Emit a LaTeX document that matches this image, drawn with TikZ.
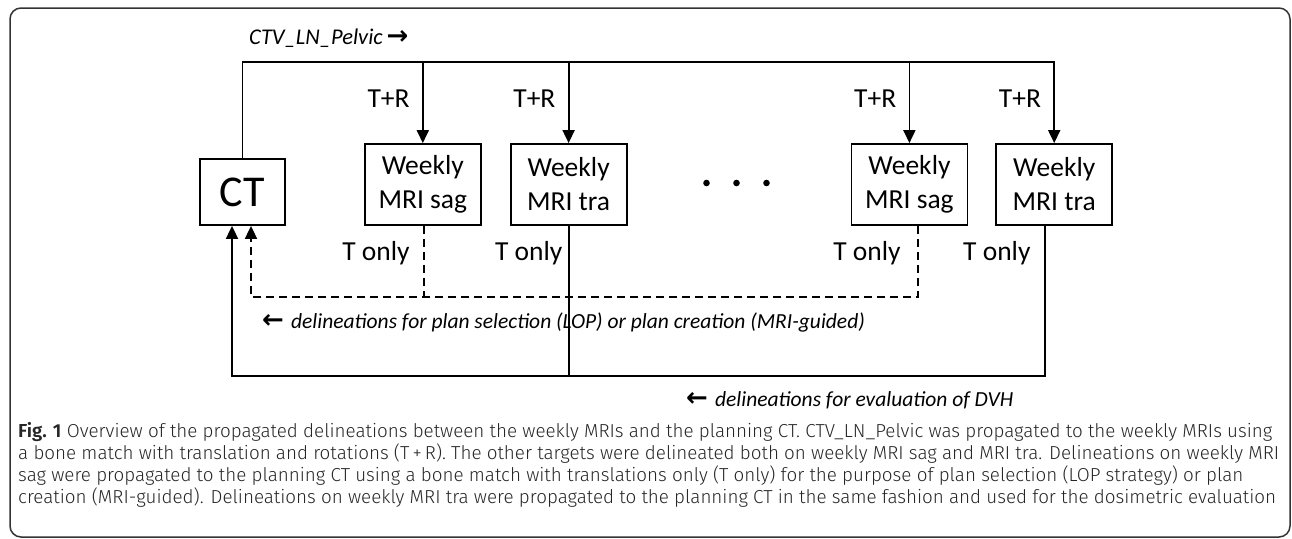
\documentclass[tikz,border=0pt]{standalone}
\usepackage{fontspec}
\setmainfont{Carlito}
\newfontfamily\capfont{Fira Sans Light}[BoldFont={Fira Sans SemiBold}]
\newfontfamily\arrowfont{DejaVu Sans}
\usetikzlibrary{positioning, arrows.meta, calc}
\tikzset{
  scanbox/.style={
    draw,
    rectangle,
    line width=1.8pt,
    minimum width=116pt,
    minimum height=81pt,
    inner sep=0pt,
    align=center,
    font=\fontsize{27.5}{34}\selectfont
  },
  ctbox/.style={
    scanbox,
    minimum width=85pt,
    minimum height=66pt,
    font=\fontsize{44}{48}\selectfont
  },
  link/.style={line width=1.8pt},
  flow/.style={link, -{Triangle[length=13pt, width=12pt]}},
  dashlink/.style={link, dash pattern=on 8pt off 5pt},
  dashflow/.style={dashlink, -{Triangle[length=13pt, width=12pt]}},
  lbl/.style={inner sep=0pt, font=\fontsize{27.5}{34}\selectfont},
  note/.style={inner sep=0pt, font=\fontsize{21.5}{25}\selectfont\itshape}
}
\newcommand{\bigarrow}[1]{{\arrowfont\upshape\bfseries\fontsize{26}{26}\selectfont #1}}
\begin{document}
\begin{tikzpicture}[x=1pt, y=-1pt]
    \useasboundingbox (0,0) rectangle (1292,538);
    \draw[line width=1.5pt, draw=black!80, rounded corners=11pt] (10,8) rectangle (1290,537);

    \node[ctbox] (ct) at (242.5,192) {CT};
    \node[scanbox, right=78pt of ct.south east, anchor=south west] (sag1) {Weekly\\MRI sag};
    \node[scanbox, right=28pt of sag1] (tra1) {Weekly\\MRI tra};
    \node[scanbox, right=223pt of tra1] (sag2) {Weekly\\MRI sag};
    \node[scanbox, right=27pt of sag2] (tra2) {Weekly\\MRI tra};

    % dots between the weeks
    \coordinate (gap) at ($(tra1.east)!0.5!(sag2.west)+(-2.5,-1.5)$);
    \foreach \dx in {-30,0,30}
        \fill ($(gap)+(\dx,0)$) circle (3.3pt);

    \coordinate (bus) at (0,62);
    \coordinate (selbus) at (0,297);
    \coordinate (evalbus) at (0,376);
    \coordinate (ctin1) at ([xshift=-10.5pt]ct.south);
    \coordinate (ctin2) at ([xshift=8.5pt]ct.south);
    \coordinate (sag1out) at ([xshift=1pt]sag1.south);
    \coordinate (sag2out) at ([xshift=8.5pt]sag2.south);
    \coordinate (tra2out) at ([xshift=-9.5pt]tra2.south);

    % T+R propagation from CT
    \draw[flow] (ct.north) |- (bus -| tra2.north) -- (tra2.north);
    \foreach \b in {sag1, tra1, sag2}
        \draw[flow] (bus -| \b.north) -- (\b.north);

    % T only back to CT
    \draw[dashlink] (sag1out) -- (sag1out |- selbus);
    \draw[dashflow] (sag2out) |- (selbus -| ctin2) -- (ctin2);
    \draw[link] (tra1.south) -- (tra1.south |- evalbus);
    \draw[flow] (tra2out) |- (evalbus -| ctin1) -- (ctin1);

    \coordinate (trbase) at (0,107);
    \coordinate (tobase) at (0,260);
    \foreach \b in {sag1, tra1, sag2, tra2}
        \node[lbl, anchor=base east] (tr-\b) at ($(trbase -| \b.north)+(-13,0)$) {T+R};
    \node[lbl, anchor=base east] (to-sag1) at ($(tobase -| sag1out)+(-14,0)$) {T only};
    \node[lbl, anchor=base east] (to-tra1) at ($(tobase -| tra1.south)+(-6,0)$) {T only};
    \node[lbl, anchor=base east] (to-sag2) at ($(tobase -| sag2out)+(-17,0)$) {T only};
    \node[lbl, anchor=base east] (to-tra2) at ($(tobase -| tra2out)+(-14,0)$) {T only};

    \node[note, anchor=base west, font=\fontsize{22.5}{27}\selectfont\itshape] (pelvic) at (249,44)
        {CTV\_LN\_Pelvic\,\bigarrow{→}};
    \node[note, anchor=base west] (selnote) at (262,328)
        {\bigarrow{←}\,\,delineations for plan selection (LOP) or plan creation (MRI-guided)};
    \node[note, anchor=base west] (evalnote) at (686,406)
        {\bigarrow{←}\,\,delineations for evaluation of DVH};

    \node[anchor=north west, align=left, inner sep=0pt, text=black!85,
          font=\capfont\fontsize{18.8}{22}\selectfont] (caption) at (18,422)
        {\textbf{Fig. 1} Overview of the propagated delineations between the weekly MRIs and the planning CT. CTV\_LN\_Pelvic was propagated to the weekly MRIs using\\
         a bone match with translation and rotations (T\,+\,R). The other targets were delineated both on weekly MRI sag and MRI tra. Delineations on weekly MRI\\
         sag were propagated to the planning CT using a bone match with translations only (T only) for the purpose of plan selection (LOP strategy) or plan\\
         creation (MRI-guided). Delineations on weekly MRI tra were propagated to the planning CT in the same fashion and used for the dosimetric evaluation};
\end{tikzpicture}
\end{document}
